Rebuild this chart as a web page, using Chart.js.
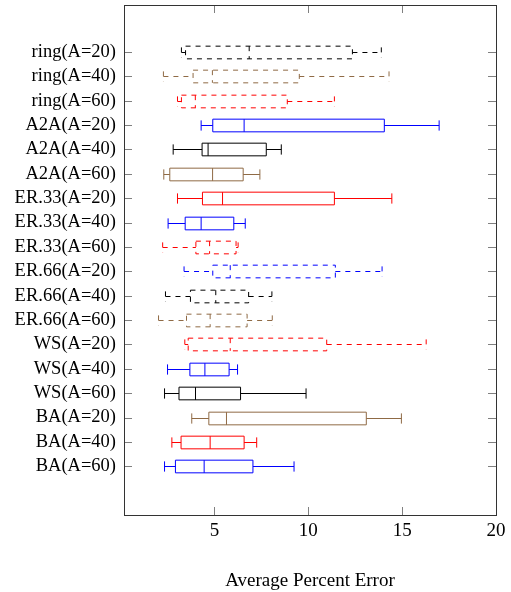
<!DOCTYPE html>
<html>
<head>
<meta charset="utf-8">
<script src="https://cdn.jsdelivr.net/npm/chart.js@4"></script>
<style>
  html, body { margin: 0; padding: 0; background: #fff; }
  #wrap { width: 511px; height: 592px; }
</style>
</head>
<body>
<div id="wrap"><canvas id="chart" width="511" height="592"></canvas></div>
<script>
// categorias, de arriba a abajo
const categories = [
  'ring(A=20)', 'ring(A=40)', 'ring(A=60)',
  'A2A(A=20)', 'A2A(A=40)', 'A2A(A=60)',
  'ER.33(A=20)', 'ER.33(A=40)', 'ER.33(A=60)',
  'ER.66(A=20)', 'ER.66(A=40)', 'ER.66(A=60)',
  'WS(A=20)', 'WS(A=40)', 'WS(A=60)',
  'BA(A=20)', 'BA(A=40)', 'BA(A=60)'
];

// resumen de cinco numeros por caja
const lowerWhisker  = [3.24, 2.28, 3.03, 4.29, 2.80, 2.30, 3.03, 2.53, 2.24, 3.38, 2.39, 2.02, 3.42, 2.50, 2.34, 3.79, 2.73, 2.34];
const lowerQuartile = [3.46, 3.86, 3.24, 4.91, 4.34, 2.62, 4.36, 3.44, 4.01, 4.91, 3.72, 3.51, 3.60, 3.69, 3.11, 4.70, 3.22, 2.92];
const medianValue   = [6.85, 4.89, 3.98, 6.58, 4.66, 4.90, 5.43, 4.29, 4.74, 5.84, 5.07, 4.77, 5.84, 4.49, 3.99, 5.64, 4.77, 4.45];
const upperQuartile = [12.35, 9.52, 8.88, 14.05, 7.76, 6.53, 11.39, 6.03, 6.15, 11.44, 6.82, 6.74, 10.98, 5.78, 6.39, 13.09, 6.58, 7.05];
const upperWhisker  = [13.89, 14.30, 11.39, 16.97, 8.56, 7.42, 14.45, 6.64, 6.26, 13.93, 8.06, 8.08, 16.28, 6.23, 9.88, 14.96, 7.25, 9.24];

const boxColors = ['black', 'brown', 'red', 'blue', 'black', 'brown', 'red', 'blue', 'red',
                   'blue', 'black', 'brown', 'red', 'blue', 'black', 'brown', 'red', 'blue'];
const dashedBox = [true, true, true, false, false, false, false, false, true,
                   true, true, true, true, false, false, false, false, false];

const xTicks = [5, 10, 15, 20];
const xTitle = 'Average Percent Error';

const palette = { black: '#000000', brown: '#8f6a45', red: '#ff0000', blue: '#0000ff' };
const FONT = "'Liberation Serif', 'Times New Roman', serif";

// dibuja las cajas usando las escalas de Chart.js
const boxPlotPlugin = {
  id: 'boxPlot',
  afterDatasetsDraw(chart) {
    const { ctx, chartArea } = chart;
    const xs = chart.scales.x, ys = chart.scales.y;
    const unit = Math.abs(ys.getPixelForValue(1) - ys.getPixelForValue(0));
    const boxH = unit * 0.26, capH = unit * 0.21;
    ctx.save();
    ctx.lineWidth = 1;
    categories.forEach((cat, i) => {
      const y = Math.round(ys.getPixelForValue(i + 1)) + 0.5;
      const px = v => xs.getPixelForValue(v);
      const lw = px(lowerWhisker[i]), q1 = px(lowerQuartile[i]), md = px(medianValue[i]);
      const q3 = px(upperQuartile[i]), uw = px(upperWhisker[i]);
      ctx.strokeStyle = palette[boxColors[i]];
      ctx.setLineDash(dashedBox[i] ? [5, 5] : []);
      // bigotes
      ctx.beginPath();
      ctx.moveTo(lw, y); ctx.lineTo(q1, y);
      ctx.moveTo(q3, y); ctx.lineTo(uw, y);
      ctx.moveTo(lw, y - capH); ctx.lineTo(lw, y + capH);
      ctx.moveTo(uw, y - capH); ctx.lineTo(uw, y + capH);
      ctx.stroke();
      // caja y mediana
      ctx.beginPath();
      ctx.rect(q1, y - boxH, q3 - q1, 2 * boxH);
      ctx.moveTo(md, y - boxH); ctx.lineTo(md, y + boxH);
      ctx.stroke();
    });
    ctx.setLineDash([]);

    // marcas hacia dentro y marco
    const { left, right, top, bottom } = chartArea;
    ctx.strokeStyle = '#808080';
    ctx.beginPath();
    xs.ticks.forEach(t => {
      const x = Math.round(xs.getPixelForValue(t.value)) + 0.5;
      ctx.moveTo(x, bottom); ctx.lineTo(x, bottom - 8);
      ctx.moveTo(x, top); ctx.lineTo(x, top + 8);
    });
    ys.ticks.forEach(t => {
      const y = Math.round(ys.getPixelForValue(t.value)) + 0.5;
      ctx.moveTo(left, y); ctx.lineTo(left + 8, y);
      ctx.moveTo(right, y); ctx.lineTo(right - 8, y);
    });
    ctx.stroke();
    ctx.strokeStyle = '#333333';
    ctx.strokeRect(Math.round(left) + 0.5, Math.round(top) + 0.5,
                   Math.round(right - left), Math.round(bottom - top));
    ctx.restore();
  }
};

new Chart(document.getElementById('chart').getContext('2d'), {
  type: 'scatter',
  data: {
    datasets: [{
      data: medianValue.map((m, i) => ({ x: m, y: i + 1 })),
      pointRadius: 0,
      showLine: false
    }]
  },
  options: {
    responsive: false,
    animation: false,
    events: [],
    layout: { padding: { left: 0, right: 15, top: 5, bottom: 0 } },
    plugins: { legend: { display: false }, tooltip: { enabled: false } },
    scales: {
      x: {
        type: 'linear',
        min: 0.18,
        max: 20,
        afterBuildTicks: s => { s.ticks = xTicks.map(v => ({ value: v })); },
        afterFit: s => { s.height = 77; s.paddingLeft = 0; s.paddingRight = 0; },
        grid: { display: false },
        border: { display: false },
        ticks: { color: '#000', padding: -3, font: { family: FONT, size: 19 } },
        title: {
          display: true,
          text: xTitle,
          color: '#000',
          font: { family: FONT, size: 19 },
          padding: { top: 0, bottom: 0 }
        }
      },
      y: {
        type: 'linear',
        reverse: true,
        min: -0.93,
        max: 20,
        afterBuildTicks: s => { s.ticks = categories.map((c, i) => ({ value: i + 1 })); },
        afterFit: s => { s.width = 124; s.paddingTop = 0; s.paddingBottom = 0; },
        grid: { display: false },
        border: { display: false },
        ticks: {
          color: '#000',
          padding: 0,
          font: { family: FONT, size: 18.5 },
          callback: v => categories[v - 1]
        }
      }
    }
  },
  plugins: [boxPlotPlugin]
});
</script>
</body>
</html>
